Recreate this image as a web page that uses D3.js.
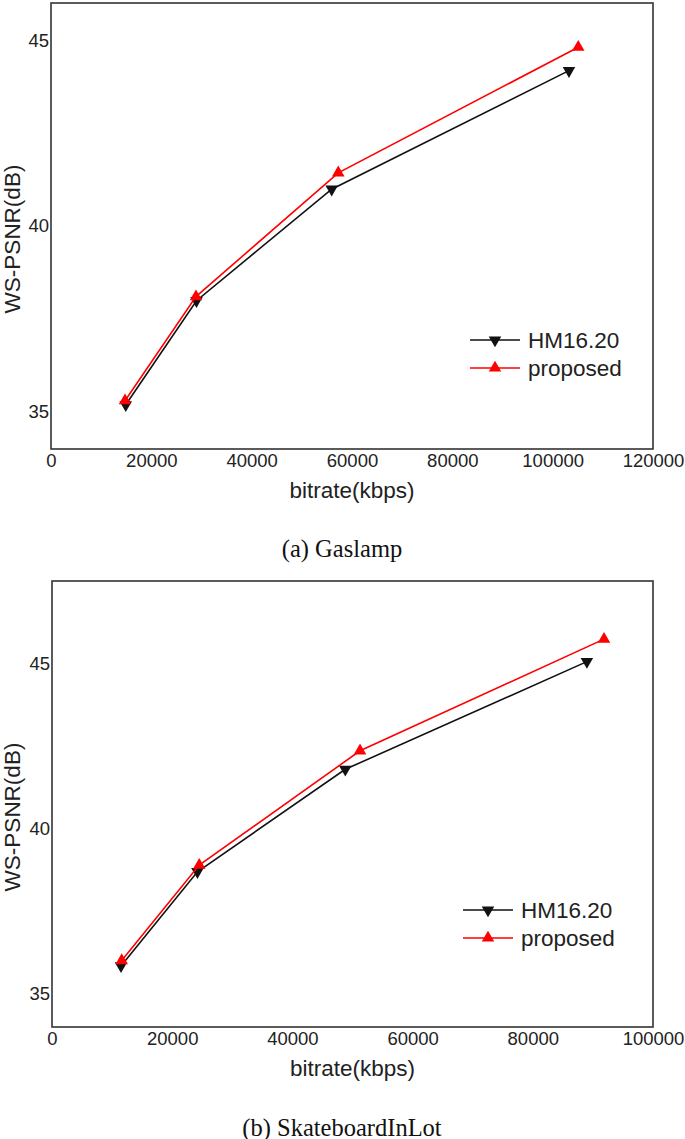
<!DOCTYPE html>
<html>
<head>
<meta charset="utf-8">
<script src="https://cdn.jsdelivr.net/npm/d3@7"></script>
<style>
  body { margin: 0; background: #fff; }
  svg { display: block; }
</style>
</head>
<body>
<script>
// values
var seriesNames = ["HM16.20", "proposed"];

var gasBitrateHM = [14900, 29000, 55950, 103250];
var gasPsnrHM = [35.19, 37.99, 40.99, 44.18];
var gasBitrateProp = [14750, 28900, 57260, 105100];
var gasPsnrProp = [35.30, 38.10, 41.43, 44.81];

var skateBitrateHM = [11480, 24200, 48800, 89000];
var skatePsnrHM = [35.85, 38.70, 41.80, 45.06];
var skateBitrateProp = [11600, 24500, 51250, 91850];
var skatePsnrProp = [36.01, 38.90, 42.36, 45.74];

var gasXTicks = [0, 20000, 40000, 60000, 80000, 100000, 120000];
var skateXTicks = [0, 20000, 40000, 60000, 80000, 100000];
var yTicks = [35, 40, 45];

var width = 685, height = 1139;
var sans = "'Liberation Sans', Arial, sans-serif";
var serif = "'Liberation Serif', 'Times New Roman', serif";
var colors = ["#111", "#ff0000"];

var svg = d3.select("body").append("svg")
    .attr("width", width)
    .attr("height", height);

function zip(xs, ys) { return xs.map((x, i) => ({x: x, y: ys[i]})); }

function panel(o) {
  var x = d3.scaleLinear().domain(o.xDomain).range([o.left, o.right]);
  var y = d3.scaleLinear().domain(o.yDomain).range([o.bottom, o.top]);
  var g = svg.append("g");

  // x axis
  var xa = g.append("g")
      .attr("transform", `translate(0,${o.bottom})`)
      .call(d3.axisBottom(x).tickValues(o.xTicks).tickSize(0).tickPadding(5).tickFormat(d3.format("d")));
  xa.select(".domain").remove();
  xa.selectAll("text").attr("font-family", sans).attr("font-size", 18.5).attr("fill", "#222");

  // y axis
  var ya = g.append("g")
      .attr("transform", `translate(${o.left},0)`)
      .call(d3.axisLeft(y).tickValues(yTicks).tickSize(0).tickPadding(2));
  ya.select(".domain").remove();
  ya.selectAll("text").attr("font-family", sans).attr("font-size", 18.5).attr("fill", "#222");

  // frame
  g.append("rect")
      .attr("x", o.left).attr("y", o.top)
      .attr("width", o.right - o.left).attr("height", o.bottom - o.top)
      .attr("fill", "none").attr("stroke", "#333").attr("stroke-width", 1.6);

  var line = d3.line().x(d => x(d.x)).y(d => y(d.y));
  var tri = d3.symbol().type(d3.symbolTriangle).size(68);

  o.series.forEach(function(s, i) {
    g.append("path")
        .datum(s)
        .attr("d", line)
        .attr("fill", "none")
        .attr("stroke", colors[i])
        .attr("stroke-width", 1.6);
    g.selectAll(null)
        .data(s)
        .join("path")
        .attr("d", tri)
        .attr("transform", d => `translate(${x(d.x)},${y(d.y)})` + (i === 0 ? " rotate(180)" : ""))
        .attr("fill", colors[i]);
  });

  // legend
  seriesNames.forEach(function(name, i) {
    var ly = o.legendY + i * 28;
    g.append("line")
        .attr("x1", o.legendX).attr("x2", o.legendX + 50)
        .attr("y1", ly).attr("y2", ly)
        .attr("stroke", colors[i]).attr("stroke-width", 1.6);
    g.append("path")
        .attr("d", tri)
        .attr("transform", `translate(${o.legendX + 25},${ly})` + (i === 0 ? " rotate(180)" : ""))
        .attr("fill", colors[i]);
    g.append("text")
        .attr("x", o.legendX + 58).attr("y", ly)
        .attr("dominant-baseline", "central")
        .attr("font-family", sans).attr("font-size", 22.5).attr("fill", "#222")
        .text(name);
  });

  // axis titles
  g.append("text")
      .attr("x", (o.left + o.right) / 2).attr("y", o.bottom + 41)
      .attr("text-anchor", "middle").attr("dominant-baseline", "central")
      .attr("font-family", sans).attr("font-size", 22.5).attr("fill", "#222")
      .text("bitrate(kbps)");
  g.append("text")
      .attr("transform", `translate(20,${(o.top + o.bottom) / 2 + 13}) rotate(-90)`)
      .attr("text-anchor", "middle")
      .attr("font-family", sans).attr("font-size", 22.5).attr("fill", "#222")
      .text("WS-PSNR(dB)");

  // caption
  g.append("text")
      .attr("x", 342).attr("y", o.captionY)
      .attr("text-anchor", "middle").attr("dominant-baseline", "central")
      .attr("font-family", serif).attr("font-size", 24.5).attr("fill", "#111")
      .text(o.caption);
}

panel({
  left: 51, right: 653, top: 3, bottom: 449,
  xDomain: [0, 120000], yDomain: [34, 46], xTicks: gasXTicks,
  series: [zip(gasBitrateHM, gasPsnrHM), zip(gasBitrateProp, gasPsnrProp)],
  legendX: 470, legendY: 340, captionY: 548, caption: "(a) Gaslamp"
});

panel({
  left: 52, right: 653, top: 581, bottom: 1027,
  xDomain: [0, 100000], yDomain: [34, 47.5], xTicks: skateXTicks,
  series: [zip(skateBitrateHM, skatePsnrHM), zip(skateBitrateProp, skatePsnrProp)],
  legendX: 463, legendY: 910, captionY: 1127, caption: "(b) SkateboardInLot"
});
</script>
</body>
</html>
